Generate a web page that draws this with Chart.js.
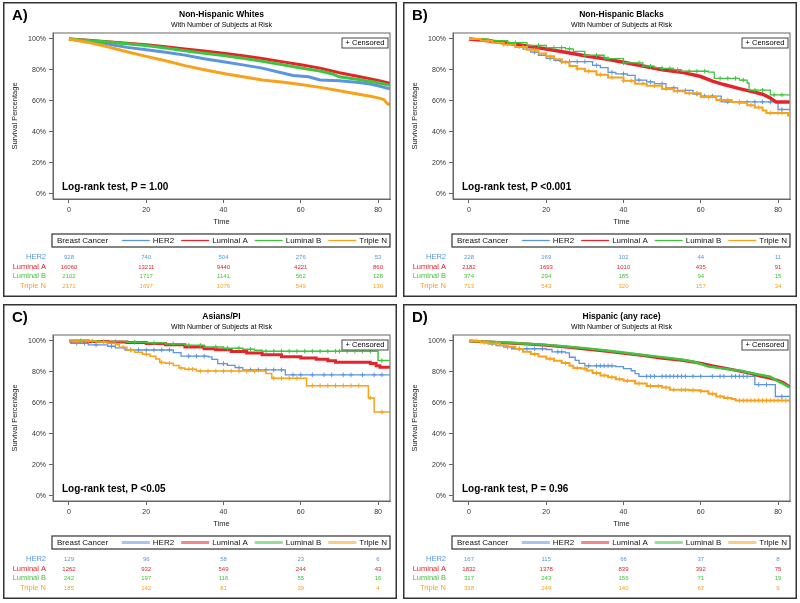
<!DOCTYPE html>
<html>
<head>
<meta charset="utf-8">
<script src="https://cdn.jsdelivr.net/npm/chart.js@4.4.0/dist/chart.umd.min.js"></script>
<style>
  body { margin: 0; background: #fff; width: 800px; height: 603px; position: relative; overflow: hidden; }
  canvas { position: absolute; }
</style>
</head>
<body>
<canvas id="pA" width="394" height="295" style="left:3px;top:2px"></canvas>
<canvas id="pB" width="394" height="295" style="left:403px;top:2px"></canvas>
<canvas id="pC" width="394" height="295" style="left:3px;top:304px"></canvas>
<canvas id="pD" width="394" height="295" style="left:403px;top:304px"></canvas>
<script>
// groups, axis ticks and risk table times
const groups = ['HER2', 'Luminal A', 'Luminal B', 'Triple N'];
const xTicks = [0, 20, 40, 60, 80];
const yTicks = [0, 20, 40, 60, 80, 100];
const riskTimes = [0, 20, 40, 60, 80];

// A) Non-Hispanic Whites  [time, survival %]
const whitesHer2 = [[0,100],[5,98.6],[10,96.8],[15,94.6],[20,93],[25,91.5],[30,89.6],[35,87.2],[40,85.3],[45,83.3],[50,81.2],[55,78.2],[58,76.5],[62,75.6],[65,73.6],[70,73],[75,72],[78,71],[80,69.8],[83,67.8]];
const whitesLumA = [[0,100],[5,99.2],[10,98.2],[15,97.2],[20,96.3],[25,95],[30,93.6],[35,92.2],[40,90.8],[45,89.2],[50,87.4],[55,85.4],[60,83.4],[65,81.2],[70,78.2],[75,75.8],[80,73.3],[83,71.5]];
const whitesLumB = [[0,100],[5,99],[10,98],[15,97],[20,95.8],[25,94.2],[30,92.4],[35,90.8],[40,89.3],[45,87.6],[50,85.6],[55,83.5],[60,81.3],[65,79.3],[68,77.6],[70,75.6],[75,73.8],[80,71.8],[83,70.2]];
const whitesTN = [[0,100],[5,97.8],[10,95],[15,91.8],[20,88.8],[25,86],[30,82.8],[35,80.2],[40,77.8],[45,75.6],[50,73.6],[55,72.2],[60,70.6],[65,68.8],[70,66.6],[75,64.4],[78,63],[80,62],[81.5,61],[82.3,58.5],[83,57.5]];
const whitesRisk = [[928,740,504,276,53],[16060,13211,9440,4221,860],[2102,1717,1141,562,128],[2171,1697,1076,549,130]];

// B) Non-Hispanic Blacks
const blacksHer2 = [[0,100],[3,99.2],[6,98.2],[9,97],[12,95.2],[14,93.5],[16,91.5],[18,89.5],[20,87.5],[22,86],[24,85.4],[31.5,85.4],[32,83],[34,81.5],[36,78.5],[38,77.5],[41,76.5],[43,73.5],[46,72.3],[48,71.2],[51,68.5],[54,66.8],[58,64.5],[60,63.2],[65.3,59.4],[79.5,59.4],[80,54.5],[83,54.5]];
const blacksLumA = [[0,100],[5,98.8],[10,97.3],[15,95.5],[20,93.5],[25,91.4],[30,89.2],[35,87.2],[40,85],[45,82.6],[50,80.2],[55,78.6],[60,75.8],[63,72.8],[66,70.6],[70,68],[73,66.2],[76,64.4],[78,62],[79.5,59.3],[83,59.3]];
const blacksLumB = [[0,100],[5,99],[10,97.6],[15,95.8],[20,94.4],[25,93.6],[27,92],[30,89.5],[35,87.3],[40,84.6],[45,82.5],[48,81.5],[50,81],[53,80.2],[55,79.2],[62,78.6],[63.5,74.6],[70,73.5],[72,71.6],[72.5,67],[77.8,67],[78,64],[83,64]];
const blacksTN = [[0,100],[3,98.8],[6,97.6],[9,96.4],[12,94.8],[15,93],[18,90.6],[20,88.8],[22,87],[24,85],[26,82.6],[28,80.8],[30,79.2],[33,77],[36,75.2],[40,73],[43,71.2],[46,69.8],[50,67.8],[53,66.3],[56,65],[60,62.6],[64,60.6],[68,59.4],[70,58.8],[72,57.2],[74,55.8],[76,53.8],[77,52.2],[82,52.2],[82.6,50]];
const blacksHer2Cens = [10,13,17,21,24,26,28,30,33,37,40,44,47,50,53,56,59,61,63,67,70,72,74,76,78,81];
const blacksLumBCens = [12,18,22,24,26,30,33,36,40,44,47,50,52,54,57,59,61,65,67,69,71,74,76,79,81];
const blacksTNCens = [5,9,14,17,21,25,28,31,34,37,40,42,45,48,51,54,57,59,62,65,67,70,73,75,78,80,81];
const blacksRisk = [[228,169,102,44,11],[2182,1693,1010,435,91],[374,294,185,94,15],[713,543,320,157,34]];

// C) Asians/PI
const asiansHer2 = [[0,100],[0.5,98.5],[5,97.5],[10,96.6],[12,95.5],[14.5,94.2],[25,94.2],[27,92.5],[29,90.2],[36,89.8],[37,88.2],[38.5,85.4],[41,84.3],[43,82.8],[45,81.4],[55.5,81.4],[56,78.2],[83,78.2]];
const asiansLumA = [[0,100],[5,99.7],[10,99.4],[15,99],[20,98.4],[25,97.6],[30,96.2],[35,95],[38,94.4],[42,93.2],[46,92.3],[50,91.2],[55,89.9],[60,89],[64,88.2],[67,87.3],[69,86.3],[78,85.5],[79.5,84],[80.5,83],[83,82.7]];
const asiansLumB = [[0,100],[8,99.6],[15,99.2],[20,98.8],[25,98],[30,97.2],[35,96.2],[40,95.4],[45,94.6],[48,94],[50,93.4],[79.5,93.4],[80,87.4],[83,87.4]];
const asiansTN = [[0,100],[7,99.3],[10,98.5],[12,97.6],[13,96],[15,94.2],[17,92.8],[19,91.5],[21,90.2],[22.5,88.4],[23.5,86.2],[25,85.6],[27,84.2],[28.5,82.6],[30,81.8],[33,80.6],[50,80.6],[51,79],[52.5,76],[60.5,76],[61.5,71.2],[77,71.2],[77.5,63.3],[78.5,63.3],[79,54.2],[83,54.2]];
const asiansHer2Cens = [2,4,7,11,16,18,20,22,24,26,31,33,35,40,44,47,49,51,53,55,58,60,63,66,68,71,73,76,79,81];
const asiansLumBCens = [3,6,9,12,17,22,27,31,34,38,41,44,47,51,53,55,57,59,61,63,65,67,69,70,72,74,76,78,81];
const asiansTNCens = [2,5,9,14,16,20,24,26,29,31,32,34,36,38,40,42,44,46,48,53,55,57,59,63,65,67,69,71,73,75,78,81];
const asiansRisk = [[129,96,58,23,6],[1262,932,549,244,43],[242,197,116,55,16],[185,142,81,39,4]];

// D) Hispanic (any race)
const hispHer2 = [[0,100],[3,99.2],[5,98.2],[7,97],[9,96],[11,95],[20,94.5],[21.5,93],[25,92.3],[26,89.5],[27.5,87.5],[28.5,85.6],[30,84],[38,83.5],[40,82.2],[42,80.8],[43,79],[44,77.2],[73.8,77.2],[74,71.9],[79,71.9],[79.3,64.2],[83,64.2]];
const hispLumA = [[0,100],[5,99.3],[10,98.7],[15,98],[20,97.2],[25,96.2],[30,94.9],[35,93.5],[40,92.1],[45,90.6],[50,88.9],[55,87.6],[60,85.6],[63,84],[66,82.6],[70,80.7],[73,79],[75,77.6],[78,76],[80,74.6],[81.5,73],[83,70.5]];
const hispLumB = [[0,100],[5,99.5],[10,99],[15,98.3],[20,97.5],[25,96.5],[30,95.4],[35,94],[40,92.6],[45,91],[50,89.6],[55,88],[58,86.8],[60,85.2],[62,83.5],[65,82.5],[68,81.4],[70,80.9],[73,79.4],[75,78.4],[78,77],[80,74],[81.5,72.2],[83,70]];
const hispTN = [[0,100],[3,99.2],[5,98.4],[8,97.3],[10,96.2],[12,94.8],[14,93],[16,91.6],[18,90],[20,88.5],[22,87.3],[24,85.8],[26,84],[27,82.5],[29,82.2],[30.5,81],[32,79.3],[34,77.8],[36,76.6],[38,75.4],[40,74.3],[43,72.6],[46,71],[50,70],[52,68.6],[57,68.3],[60,67.6],[62,66],[64,64.2],[66,63.2],[68,62.6],[69,61.6],[83,61.6]];
const hispHer2Cens = [6,10,13,15,17,19,23,24,31,33,34,35,36,37,46,47,48,50,51,52,53,54,55,56,58,60,63,65,66,68,69,70,71,72,75,77,81];
const hispTNCens = [2,4,7,13,17,21,25,28,30,33,35,37,39,41,44,47,49,51,53,55,56,58,60,63,65,67,70,71,72,73,74,75,76,77,78,79,80,81,82];
const hispRisk = [[167,115,66,37,8],[1832,1378,839,392,75],[317,243,156,71,19],[338,249,140,67,9]];

const colors = ['#5b95e2', '#e3242b', '#3fc43f', '#f8a21c'];
const FONT = '"Liberation Sans", Arial, sans-serif';

// value of a step curve at time t (for placing censor marks)
function survAt(steps, t) {
  let s = steps[0][1];
  for (const p of steps) { if (p[0] <= t) s = p[1]; }
  return s;
}

const panelPlugin = {
  id: 'panel',
  beforeDraw(chart) {
    const c = chart.ctx;
    c.save();
    c.fillStyle = '#fff';
    c.fillRect(0, 0, chart.width, chart.height);
    c.strokeStyle = '#333';
    c.lineWidth = 1.5;
    c.strokeRect(0.75, 0.75, chart.width - 1.5, chart.height - 1.5);
    c.restore();
  },
  afterDraw(chart, args, o) {
    const c = chart.ctx, a = chart.chartArea, xs = chart.scales.x;
    const cx = (a.left + a.right) / 2;
    c.save();
    // plot frame
    c.strokeStyle = '#666';
    c.lineWidth = 1;
    c.strokeRect(a.left, a.top, a.right - a.left, a.bottom - a.top);

    c.fillStyle = '#000';
    c.textBaseline = 'middle';
    // panel letter
    c.font = 'bold 15px ' + FONT;
    c.textAlign = 'left';
    c.fillText(o.letter, 9, 14);
    // titles
    c.textAlign = 'center';
    c.font = 'bold 8.5px ' + FONT;
    c.fillText(o.title, cx, 12.5);
    c.font = '7px ' + FONT;
    c.fillText('With Number of Subjects at Risk', cx, 23);

    // axis titles
    c.font = '7.5px ' + FONT;
    c.fillStyle = '#222';
    c.fillText('Time', cx, a.bottom + 23);
    c.save();
    c.translate(12, (a.top + a.bottom) / 2);
    c.rotate(-Math.PI / 2);
    c.fillText('Survival Percentage', 0, 0);
    c.restore();

    // censored box
    c.fillStyle = '#000';
    c.strokeStyle = '#444';
    c.lineWidth = 1;
    c.fillStyle = '#fff';
    c.fillRect(a.right - 48, a.top + 5, 46, 10);
    c.strokeRect(a.right - 48, a.top + 5, 46, 10);
    c.fillStyle = '#000';
    c.fillText('+ Censored', a.right - 25, a.top + 10);

    // log-rank text
    c.font = 'bold 10px ' + FONT;
    c.textAlign = 'left';
    c.fillText(o.pText, a.left + 9, a.bottom - 12);

    // legend box
    const ly = a.bottom + 35;
    c.strokeStyle = '#333';
    c.lineWidth = 1.2;
    c.strokeRect(a.left - 1, ly, a.right - a.left + 1, 13);
    c.font = '8px ' + FONT;
    c.fillStyle = '#111';
    c.fillText('Breast Cancer', a.left + 4, ly + 6.5);
    let x = a.right - 3;
    for (let i = groups.length - 1; i >= 0; i--) {
      const tw = c.measureText(groups[i]).width;
      x -= tw;
      c.fillStyle = '#111';
      c.fillText(groups[i], x, ly + 6.5);
      x -= 3;
      c.strokeStyle = colors[i];
      c.globalAlpha = o.legendAlpha;
      c.lineWidth = o.legendWidth;
      c.beginPath();
      c.moveTo(x - 28, ly + 6.5);
      c.lineTo(x, ly + 6.5);
      c.stroke();
      c.globalAlpha = 1;
      x -= 28 + 7;
    }

    // number at risk table
    const rowY = [58, 68, 77, 87];
    for (let g = 0; g < groups.length; g++) {
      const y = a.bottom + rowY[g];
      c.fillStyle = colors[g];
      c.font = '7.5px ' + FONT;
      c.textAlign = 'right';
      c.fillText(groups[g], a.left - 7, y);
      c.font = '6px ' + FONT;
      c.textAlign = 'center';
      o.risk[g].forEach((n, j) => c.fillText(String(n), xs.getPixelForValue(riskTimes[j]), y));
    }
    c.restore();
  }
};

function makePanel(id, cfg) {
  const datasets = [];
  cfg.curves.forEach((steps, i) => {
    datasets.push({
      type: 'line',
      data: steps,
      borderColor: colors[i],
      borderWidth: cfg.widths[i],
      stepped: cfg.stepped[i] ? 'before' : false,
      pointRadius: 0,
      fill: false,
      order: 4 - i
    });
    const cens = cfg.cens[i];
    if (cens.length) {
      datasets.push({
        type: 'scatter',
        data: cens.map(t => [t, survAt(steps, t)]),
        borderColor: colors[i],
        backgroundColor: colors[i],
        pointStyle: 'cross',
        pointRadius: 2.3,
        pointBorderWidth: 1,
        showLine: false,
        order: 4 - i
      });
    }
  });

  new Chart(document.getElementById(id), {
    type: 'line',
    data: { datasets },
    plugins: [panelPlugin],
    options: {
      responsive: false,
      animation: false,
      devicePixelRatio: 1,
      layout: { padding: { top: 31, right: 7, bottom: 68, left: 0 } },
      plugins: {
        legend: { display: false },
        tooltip: { enabled: false },
        panel: cfg
      },
      scales: {
        x: {
          type: 'linear',
          min: -4.14,
          max: 83.1,
          afterBuildTicks: s => { s.ticks = xTicks.map(v => ({ value: v })); },
          afterFit: s => { s.height = 30; },
          ticks: { font: { size: 7, family: FONT }, color: '#333', padding: 3, maxRotation: 0 },
          grid: { drawOnChartArea: false, drawTicks: true, tickLength: 4, color: '#666' },
          border: { display: true, color: '#666' }
        },
        y: {
          type: 'linear',
          min: -3.23,
          max: 103.87,
          afterBuildTicks: s => { s.ticks = yTicks.map(v => ({ value: v })); },
          afterFit: s => { s.width = 50; },
          ticks: { font: { size: 7, family: FONT }, color: '#333', padding: 3, callback: v => v + '%' },
          grid: { drawOnChartArea: false, drawTicks: true, tickLength: 4, color: '#666' },
          border: { display: true, color: '#666' }
        }
      }
    }
  });
}

makePanel('pA', {
  letter: 'A)', title: 'Non-Hispanic Whites', pText: 'Log-rank test, P = 1.00',
  curves: [whitesHer2, whitesLumA, whitesLumB, whitesTN],
  cens: [[], [], [], []],
  risk: whitesRisk,
  widths: [3, 3, 3, 3], stepped: [false, false, false, false],
  legendWidth: 1.3, legendAlpha: 1
});
makePanel('pB', {
  letter: 'B)', title: 'Non-Hispanic Blacks', pText: 'Log-rank test, P <0.001',
  curves: [blacksHer2, blacksLumA, blacksLumB, blacksTN],
  cens: [blacksHer2Cens, [], blacksLumBCens, blacksTNCens],
  risk: blacksRisk,
  widths: [1.3, 3.5, 1.3, 2], stepped: [true, false, true, true],
  legendWidth: 1.3, legendAlpha: 1
});
makePanel('pC', {
  letter: 'C)', title: 'Asians/PI', pText: 'Log-rank test, P <0.05',
  curves: [asiansHer2, asiansLumA, asiansLumB, asiansTN],
  cens: [asiansHer2Cens, [], asiansLumBCens, asiansTNCens],
  risk: asiansRisk,
  widths: [1.3, 3, 1.5, 1.5], stepped: [true, true, true, true],
  legendWidth: 3, legendAlpha: 0.55
});
makePanel('pD', {
  letter: 'D)', title: 'Hispanic (any race)', pText: 'Log-rank test, P = 0.96',
  curves: [hispHer2, hispLumA, hispLumB, hispTN],
  cens: [hispHer2Cens, [], [], hispTNCens],
  risk: hispRisk,
  widths: [1.3, 3, 2.5, 2], stepped: [true, false, false, true],
  legendWidth: 3, legendAlpha: 0.55
});
</script>
</body>
</html>
